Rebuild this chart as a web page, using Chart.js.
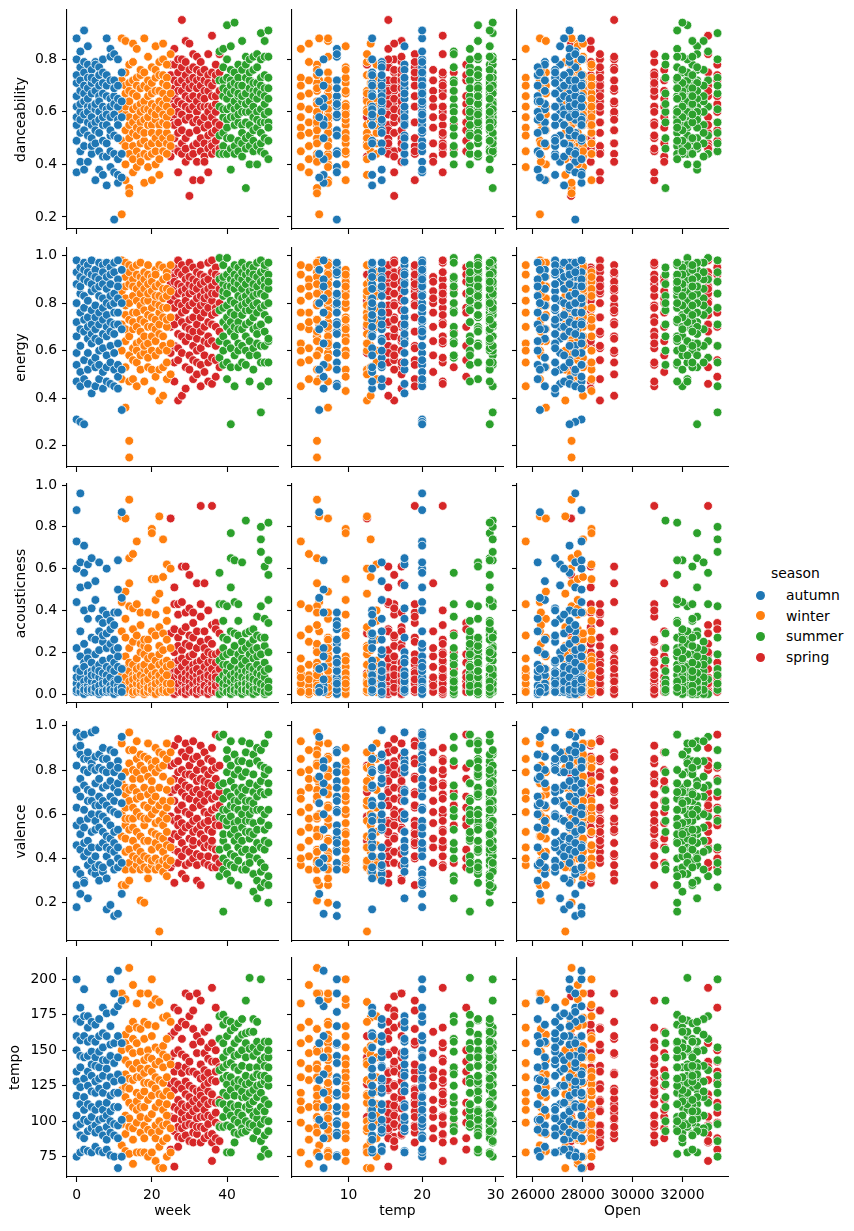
<!DOCTYPE html>
<html>
<head>
<meta charset="utf-8">
<script src="https://cdn.jsdelivr.net/npm/chart.js@4.4.1/dist/chart.umd.min.js"></script>
<style>
  body { margin: 0; background: #fff; }
  #page { position: relative; width: 854px; height: 1231px; overflow: hidden; font-family: 'DejaVu Sans', sans-serif; }
  #page canvas { position: absolute; }
  .leg { position: absolute; font-size: 13.9px; color: #000; line-height: 16px; white-space: nowrap; }
  .dot { position: absolute; width: 9px; height: 9px; border-radius: 50%; }
</style>
</head>
<body>
<div id="page"></div>
<script>
// weekly values (10 songs per week)
const weeks = [0,1,2,3,4,5,6,7,8,9,10,11,12,13,14,15,16,17,18,19,20,21,22,23,24,25,
  26,27,28,29,30,31,32,33,34,35,36,37,38,39,40,41,42,43,44,45,46,47,48,49,50,51];

const weekTemp = [20.0,20.0,20.0,17.6,17.6,14.5,14.5,13.2,13.2,8.4,8.4,6.6,6.0,
  7.2,5.7,4.6,3.5,5.7,7.2,7.2,9.6,9.6,12.5,13.0,13.8,12.5,
  15.4,16.2,15.4,17.2,16.2,19.0,17.2,19.0,21.5,22.8,22.8,26.0,24.3,
  26.5,27.6,29.2,29.6,29.2,27.6,29.6,26.5,29.2,24.3,29.6,27.6,29.2];

const weekOpen = [27950,27700,27470,27090,26890,26480,26190,26890,27250,27470,27700,27950,26280,
  26520,27550,27800,25710,26320,27550,28010,28350,27800,27300,28010,28350,27530,
  28320,28690,29260,28320,27530,28690,29260,30870,31270,30870,33030,33400,33030,
  31790,32200,32590,32000,32400,32850,31320,32200,32000,32590,33410,32400,31790];

// weeks that straddle two seasons: first half of the songs take the first name
const weekSeason = ['autumn','autumn','autumn','autumn','autumn','autumn','autumn','autumn','autumn','autumn',
  'autumn','autumn','autumn/winter',
  'winter','winter','winter','winter','winter','winter','winter','winter','winter','winter','winter','winter','winter/spring',
  'spring','spring','spring','spring','spring','spring','spring','spring','spring','spring','spring','spring','spring/summer',
  'summer','summer','summer','summer','summer','summer','summer','summer','summer','summer','summer','summer','summer'];

const danceability = [
  [.88,.37,.62,.71,.55,.80,.49,.66,.58,.74],[.83,.41,.60,.52,.77,.68,.45,.63,.72,.57],
  [.91,.38,.64,.70,.53,.79,.59,.47,.67,.75],[.85,.56,.62,.41,.73,.69,.51,.60,.78,.65],
  [.76,.44,.58,.67,.71,.62,.50,.55,.73,.47],[.79,.34,.61,.56,.68,.72,.48,.63,.53,.78],
  [.77,.60,.38,.70,.66,.52,.57,.45,.74,.64],[.80,.43,.62,.55,.71,.49,.67,.36,.58,.75],
  [.88,.48,.70,.32,.61,.55,.66,.43,.74,.59],[.84,.39,.65,.51,.72,.58,.62,.45,.81,.53],
  [.82,.19,.66,.37,.59,.72,.44,.51,.63,.69],[.80,.33,.57,.62,.42,.70,.50,.65,.36,.55],
  [.75,.35,.64,.58,.44,.88,.21,.72,.49,.60],[.87,.53,.67,.40,.75,.59,.34,.62,.47,.70],
  [.78,.31,.55,.29,.64,.71,.44,.58,.50,.68],[.86,.42,.72,.61,.52,.37,.67,.56,.79,.47],
  [.84,.58,.45,.66,.73,.62,.39,.54,.70,.51],[.74,.43,.63,.56,.69,.48,.76,.60,.41,.53],
  [.88,.33,.57,.70,.64,.49,.75,.44,.61,.52],[.81,.47,.66,.39,.72,.55,.61,.43,.69,.58],
  [.71,.34,.55,.63,.48,.77,.60,.44,.67,.52],[.85,.40,.62,.73,.57,.50,.68,.45,.76,.59],
  [.74,.48,.68,.36,.55,.64,.79,.42,.61,.52],[.86,.56,.71,.45,.63,.80,.50,.67,.59,.74],
  [.73,.52,.65,.44,.78,.58,.48,.62,.70,.55],[.82,.50,.60,.47,.67,.74,.43,.65,.58,.78],
  [.84,.55,.69,.46,.78,.62,.72,.50,.66,.59],[.80,.37,.64,.71,.56,.75,.45,.68,.60,.52],
  [.95,.44,.68,.59,.77,.53,.72,.48,.63,.80],[.87,.41,.74,.57,.66,.50,.79,.62,.70,.46],
  [.86,.28,.65,.72,.43,.58,.76,.61,.52,.69],[.82,.47,.70,.34,.62,.77,.56,.66,.44,.73],
  [.81,.41,.60,.76,.53,.69,.48,.64,.72,.57],[.79,.34,.66,.56,.73,.45,.62,.70,.50,.75],
  [.76,.43,.58,.68,.48,.72,.62,.54,.41,.65],[.82,.37,.62,.74,.55,.46,.68,.60,.51,.71],
  [.89,.48,.58,.66,.44,.75,.62,.52,.70,.47],[.78,.45,.63,.56,.72,.49,.66,.60,.53,.74],
  [.82,.46,.68,.55,.75,.83,.44,.72,.51,.62],[.84,.58,.72,.47,.66,.77,.52,.69,.61,.44],
  [.93,.50,.65,.73,.57,.44,.80,.61,.68,.54],[.85,.38,.72,.62,.50,.76,.58,.67,.46,.70],
  [.94,.61,.47,.68,.75,.55,.64,.44,.71,.58],[.78,.49,.66,.73,.56,.62,.45,.70,.59,.67],
  [.87,.55,.64,.48,.76,.60,.70,.52,.66,.43],[.81,.31,.60,.73,.50,.67,.56,.78,.46,.63],
  [.80,.47,.72,.55,.64,.69,.51,.75,.60,.40],[.81,.45,.68,.58,.76,.62,.53,.71,.49,.66],
  [.82,.40,.65,.77,.54,.71,.47,.60,.68,.57],[.90,.52,.73,.61,.45,.67,.80,.56,.70,.48],
  [.87,.50,.63,.74,.56,.69,.44,.81,.59,.66],[.91,.42,.69,.56,.65,.81,.49,.60,.73,.54]
];

const energy = [
  [.98,.31,.72,.88,.59,.47,.93,.66,.80,.54],[.95,.30,.84,.62,.76,.91,.51,.69,.87,.45],
  [.97,.29,.78,.56,.90,.68,.83,.48,.73,.94],[.96,.52,.81,.65,.89,.74,.46,.93,.59,.70],
  [.98,.42,.77,.85,.63,.92,.55,.71,.88,.67],[.94,.57,.79,.65,.86,.45,.74,.91,.53,.69],
  [.97,.60,.83,.71,.48,.90,.76,.64,.87,.54],[.96,.51,.78,.88,.67,.44,.82,.93,.61,.73],
  [.97,.53,.80,.66,.91,.47,.75,.86,.58,.70],[.95,.46,.79,.62,.88,.55,.72,.92,.68,.83],
  [.97,.59,.76,.84,.45,.93,.67,.80,.52,.71],[.98,.44,.82,.71,.90,.49,.76,.63,.87,.54],
  [.94,.35,.80,.52,.69,.98,.48,.85,.71,.60],[.97,.36,.82,.64,.91,.75,.53,.87,.69,.79],
  [.96,.15,.22,.73,.58,.88,.47,.80,.66,.93],[.95,.48,.83,.69,.90,.61,.76,.56,.87,.72],
  [.92,.45,.76,.63,.86,.55,.96,.70,.81,.60],[.97,.52,.79,.68,.91,.64,.84,.73,.58,.88],
  [.93,.47,.77,.86,.66,.59,.90,.72,.81,.62],[.96,.53,.81,.70,.88,.63,.75,.92,.57,.84],
  [.91,.43,.74,.85,.66,.78,.52,.89,.70,.60],[.94,.49,.80,.64,.87,.73,.58,.83,.69,.92],
  [.96,.39,.76,.88,.60,.71,.83,.52,.79,.67],[.95,.41,.82,.66,.90,.74,.53,.86,.78,.62],
  [.93,.48,.78,.60,.86,.70,.55,.91,.73,.83],[.96,.50,.74,.85,.63,.92,.59,.81,.70,.88],
  [.95,.47,.86,.71,.78,.91,.62,.83,.55,.89],[.98,.39,.80,.67,.88,.74,.56,.93,.84,.61],
  [.96,.41,.87,.72,.79,.92,.59,.85,.66,.76],[.94,.44,.83,.70,.90,.53,.77,.86,.64,.81],
  [.97,.52,.79,.88,.66,.84,.58,.91,.73,.69],[.95,.48,.85,.62,.80,.90,.56,.74,.87,.68],
  [.93,.50,.82,.71,.89,.60,.77,.86,.65,.55],[.96,.45,.79,.68,.88,.54,.83,.74,.92,.61],
  [.91,.51,.76,.85,.64,.80,.58,.89,.70,.82],[.97,.47,.83,.66,.90,.72,.55,.86,.78,.63],
  [.98,.46,.81,.71,.87,.57,.93,.75,.64,.84],[.95,.49,.78,.89,.62,.84,.70,.92,.56,.76],
  [.91,.53,.80,.68,.86,.99,.57,.77,.90,.64],[.96,.54,.83,.72,.88,.60,.91,.78,.66,.85],
  [.99,.48,.74,.87,.63,.92,.79,.55,.84,.70],[.94,.29,.53,.81,.68,.90,.76,.61,.87,.72],
  [.96,.45,.86,.70,.92,.58,.80,.66,.89,.75],[.95,.53,.78,.88,.63,.91,.72,.83,.60,.69],
  [.97,.55,.82,.69,.90,.75,.62,.86,.79,.93],[.92,.54,.77,.88,.66,.83,.71,.95,.60,.80],
  [.96,.47,.81,.72,.90,.64,.85,.58,.77,.93],[.95,.52,.79,.86,.69,.92,.61,.83,.74,.88],
  [.97,.58,.84,.70,.91,.76,.63,.87,.80,.67],[.98,.34,.45,.78,.89,.62,.84,.71,.93,.55],
  [.94,.55,.83,.68,.90,.75,.62,.87,.79,.96],[.97,.47,.80,.64,.92,.55,.86,.73,.65,.89]
];

const acousticness = [
  [.88,.01,.05,.73,.12,.44,.02,.22,.60,.08],[.96,.02,.18,.08,.51,.01,.30,.11,.63,.04],
  [.71,.00,.15,.40,.06,.24,.03,.58,.13,.02],[.62,.01,.20,.04,.36,.10,.02,.52,.07,.17],
  [.65,.03,.11,.01,.27,.41,.06,.15,.02,.09],[.54,.02,.09,.19,.01,.45,.05,.26,.12,.03],
  [.63,.00,.14,.30,.04,.21,.08,.01,.36,.11],[.40,.02,.25,.07,.34,.01,.16,.05,.10,.28],
  [.60,.01,.13,.05,.29,.22,.02,.09,.38,.06],[.35,.03,.17,.01,.24,.08,.31,.04,.12,.02],
  [.39,.00,.21,.06,.11,.33,.02,.15,.05,.26],[.64,.01,.22,.50,.04,.13,.39,.07,.02,.18],
  [.87,.03,.46,.12,.01,.85,.02,.30,.09,.44],[.84,.01,.18,.05,.49,.12,.02,.27,.08,.36],
  [.93,.03,.65,.11,.42,.02,.22,.06,.53,.15],[.67,.00,.14,.41,.04,.25,.09,.01,.31,.07],
  [.73,.02,.10,.28,.05,.17,.01,.43,.08,.12],[.39,.01,.24,.06,.13,.02,.20,.09,.33,.04],
  [.23,.00,.12,.04,.19,.08,.01,.26,.06,.14],[.26,.02,.11,.39,.05,.01,.17,.07,.22,.03],
  [.79,.01,.77,.13,.04,.30,.09,.55,.02,.18],[.55,.00,.45,.10,.28,.03,.16,.07,.38,.05],
  [.85,.02,.48,.14,.06,.23,.01,.32,.09,.19],[.74,.01,.29,.11,.04,.56,.15,.02,.21,.07],
  [.62,.03,.40,.16,.05,.26,.01,.13,.09,.35],[.60,.02,.14,.05,.22,.84,.01,.29,.10,.06],
  [.51,.00,.12,.31,.04,.20,.02,.08,.43,.15],[.43,.01,.27,.09,.38,.03,.16,.05,.23,.11],
  [.61,.02,.44,.13,.06,.30,.01,.21,.08,.17],[.61,.00,.39,.10,.24,.04,.15,.02,.32,.07],
  [.57,.01,.23,.06,.12,.41,.03,.18,.09,.28],[.39,.02,.14,.05,.27,.01,.19,.08,.34,.11],
  [.53,.00,.22,.09,.15,.03,.30,.06,.12,.02],[.90,.01,.43,.16,.05,.25,.02,.37,.10,.07],
  [.53,.02,.18,.06,.30,.01,.13,.08,.22,.04],[.40,.00,.20,.11,.03,.26,.07,.15,.02,.09],
  [.90,.01,.33,.16,.05,.24,.08,.02,.12,.19],[.34,.02,.19,.06,.31,.01,.10,.04,.15,.08],
  [.29,.01,.12,.05,.20,.58,.00,.16,.07,.43],[.43,.01,.22,.09,.35,.03,.14,.05,.27,.18],
  [.42,.02,.26,.08,.11,.04,.19,.01,.07,.14],[.77,.00,.65,.13,.51,.06,.20,.02,.30,.09],
  [.64,.01,.44,.10,.29,.04,.16,.07,.23,.02],[.43,.02,.28,.06,.12,.01,.19,.09,.35,.04],
  [.63,.00,.25,.11,.05,.17,.02,.21,.08,.14],[.83,.01,.29,.07,.16,.03,.22,.05,.11,.02],
  [.30,.02,.19,.06,.10,.01,.24,.08,.13,.04],[.26,.00,.17,.05,.31,.09,.02,.21,.12,.07],
  [.37,.01,.14,.22,.05,.28,.03,.10,.18,.06],[.80,.02,.74,.68,.42,.12,.27,.05,.19,.09],
  [.61,.00,.36,.15,.04,.23,.08,.01,.27,.11],[.82,.01,.64,.57,.45,.34,.20,.06,.12,.03]
];

const valence = [
  [.97,.18,.55,.82,.35,.71,.46,.90,.63,.28],[.95,.24,.68,.44,.87,.57,.33,.76,.51,.91],
  [.96,.30,.62,.85,.41,.73,.54,.29,.80,.47],[.85,.22,.66,.48,.79,.37,.58,.71,.43,.88],
  [.97,.34,.60,.83,.45,.70,.52,.66,.39,.81],[.98,.33,.64,.53,.86,.41,.74,.57,.36,.80],
  [.87,.37,.60,.76,.45,.68,.54,.81,.30,.64],[.90,.34,.59,.80,.47,.72,.36,.66,.52,.85],
  [.85,.17,.50,.73,.41,.64,.31,.57,.79,.45],[.89,.19,.49,.75,.38,.62,.55,.82,.44,.68],
  [.88,.14,.43,.66,.35,.52,.79,.47,.61,.72],[.84,.15,.53,.70,.36,.60,.81,.45,.74,.40],
  [.95,.24,.65,.38,.77,.92,.28,.60,.74,.50],[.79,.28,.55,.69,.43,.63,.35,.72,.49,.58],
  [.97,.30,.66,.44,.83,.53,.38,.71,.58,.89],[.89,.35,.72,.54,.80,.41,.63,.48,.76,.58],
  [.93,.37,.61,.79,.45,.70,.52,.85,.40,.67],[.87,.21,.50,.68,.35,.76,.43,.59,.82,.39],
  [.86,.20,.55,.41,.72,.36,.64,.48,.80,.58],[.92,.31,.63,.48,.77,.40,.58,.85,.35,.69],
  [.83,.37,.66,.52,.75,.44,.60,.39,.71,.81],[.90,.35,.68,.47,.79,.56,.40,.62,.84,.51],
  [.81,.07,.50,.64,.38,.72,.45,.57,.36,.88],[.87,.34,.60,.77,.43,.55,.82,.39,.66,.49],
  [.92,.32,.52,.71,.40,.63,.85,.46,.58,.37],[.88,.39,.66,.45,.75,.82,.36,.59,.70,.48],
  [.91,.29,.57,.76,.44,.66,.51,.83,.38,.71],[.94,.38,.62,.84,.50,.72,.43,.58,.79,.55],
  [.88,.33,.70,.47,.80,.56,.64,.41,.75,.52],[.92,.31,.54,.78,.44,.68,.61,.86,.37,.73],
  [.89,.38,.67,.49,.82,.55,.72,.43,.60,.78],[.93,.40,.63,.77,.46,.57,.85,.52,.70,.48],
  [.86,.30,.58,.71,.42,.80,.53,.66,.37,.75],[.91,.28,.64,.47,.76,.55,.83,.41,.69,.51],
  [.88,.45,.72,.56,.80,.38,.66,.49,.75,.61],[.85,.41,.69,.53,.78,.46,.60,.37,.74,.57],
  [.90,.45,.67,.80,.52,.73,.36,.62,.84,.48],[.96,.36,.58,.76,.44,.68,.55,.81,.40,.63],
  [.82,.38,.70,.55,.64,.95,.32,.59,.73,.44],[.96,.16,.48,.67,.40,.58,.74,.35,.62,.51],
  [.89,.33,.62,.79,.45,.55,.70,.38,.85,.57],[.93,.30,.59,.75,.42,.64,.51,.82,.37,.68],
  [.87,.36,.66,.48,.78,.56,.63,.41,.72,.53],[.84,.28,.57,.70,.45,.62,.80,.39,.66,.50],
  [.93,.35,.60,.77,.43,.84,.54,.68,.48,.72],[.88,.37,.63,.52,.79,.44,.71,.57,.35,.66],
  [.92,.41,.66,.57,.83,.49,.74,.60,.38,.52],[.87,.25,.56,.70,.44,.62,.78,.33,.65,.51],
  [.90,.22,.53,.40,.73,.62,.30,.84,.47,.68],[.89,.27,.57,.34,.75,.45,.82,.62,.38,.70],
  [.92,.29,.60,.44,.78,.53,.69,.36,.81,.48],[.96,.20,.55,.32,.74,.47,.70,.62,.28,.80]
];

const tempo = [
  [200,75,150,118,96,172,135,104,160,128],[180,78,138,98,157,112,170,124,90,146],
  [193,80,130,101,160,117,145,88,174,108],[174,79,125,146,93,166,112,135,100,156],
  [170,78,140,103,158,121,95,132,149,110],[168,82,145,97,128,156,108,139,92,120],
  [172,79,149,112,94,130,160,101,138,123],[180,78,143,102,162,120,90,132,108,152],
  [176,80,160,96,125,143,87,113,137,104],[200,76,146,107,131,92,167,118,154,100],
  [190,75,155,110,90,177,128,98,141,120],[206,67,181,145,88,120,160,97,133,110],
  [185,75,155,129,101,190,83,150,122,98],[186,79,161,124,104,143,91,133,117,155],
  [208,77,165,123,96,140,113,151,102,130],[196,70,170,129,95,148,110,137,87,158],
  [183,78,155,120,99,141,108,166,131,114],[190,78,165,103,131,149,92,118,137,110],
  [170,78,143,121,97,158,110,134,88,127],[190,75,150,115,102,137,168,127,94,145],
  [200,78,182,135,92,118,160,105,144,126],[186,72,167,123,97,140,110,152,88,131],
  [184,67,150,113,82,129,100,142,119,93],[173,67,153,127,97,138,108,118,147,86],
  [174,75,158,131,98,145,112,121,88,104],[170,78,140,118,95,160,80,126,103,145],
  [180,68,148,110,93,135,122,163,102,128],[178,82,150,115,96,126,139,108,166,89],
  [170,88,147,101,123,112,158,95,134,106],[190,90,145,102,119,168,128,97,110,138],
  [188,86,142,117,104,125,174,98,135,111],[178,85,154,123,97,114,135,107,165,92],
  [190,91,160,116,102,133,121,148,96,109],[185,85,130,112,96,156,122,103,140,118],
  [163,88,136,103,125,115,148,95,108,131],[166,90,152,121,104,134,112,98,144,127],
  [194,72,142,114,91,129,155,103,119,85],[180,80,150,128,99,142,113,88,135,106],
  [158,86,138,115,97,174,96,136,158,113],[175,96,155,130,112,168,120,145,103,138],
  [171,78,160,126,108,140,97,118,149,132],[170,78,150,112,96,131,164,104,122,141],
  [166,85,138,118,101,155,127,92,146,110],[169,91,147,124,99,111,136,158,106,129],
  [172,95,150,128,104,117,161,92,139,121],[185,93,155,126,110,145,100,132,117,162],
  [201,96,163,120,108,138,151,98,127,112],[172,88,152,114,97,131,122,146,104,163],
  [170,93,149,117,102,138,125,107,156,133],[200,75,143,98,132,110,152,86,126,120],
  [156,80,139,101,128,115,145,90,132,107],[156,77,145,100,125,93,138,112,150,130]
];

const weekTicks = [0, 20, 40];
const tempTicks = [10, 20, 30];
const openTicks = [26000, 28000, 30000, 32000];
const danceTicks = [0.2, 0.4, 0.6, 0.8];
const energyTicks = [0.2, 0.4, 0.6, 0.8, 1.0];
const acousticTicks = [0.0, 0.2, 0.4, 0.6, 0.8, 1.0];
const valenceTicks = [0.2, 0.4, 0.6, 0.8, 1.0];
const tempoTicks = [75, 100, 125, 150, 175, 200];

const legendOrder = ['autumn', 'winter', 'summer', 'spring'];
const seasonColors = { autumn: '#1f77b4', winter: '#ff7f0e', summer: '#2ca02c', spring: '#d62728' };
// drawn first -> last
const drawOrder = ['spring', 'summer', 'winter', 'autumn'];

// one record per song
const songs = [];
weeks.forEach(function(w, wi) {
  const names = weekSeason[wi].split('/');
  danceability[wi].forEach(function(d, i) {
    const season = names.length > 1 && i >= danceability[wi].length / 2 ? names[1] : names[0];
    songs.push({
      week: w, temp: weekTemp[wi], Open: weekOpen[wi],
      danceability: d, energy: energy[wi][i], acousticness: acousticness[wi][i],
      valence: valence[wi][i], tempo: tempo[wi][i], season: season
    });
  });
});

const xVars = [
  { key: 'week', min: -2.55, max: 53.55, ticks: weekTicks, fmt: v => String(v) },
  { key: 'temp', min: 2.3, max: 31.0, ticks: tempTicks, fmt: v => String(v) },
  { key: 'Open', min: 25360, max: 33830, ticks: openTicks, fmt: v => String(v) }
];
const yVars = [
  { key: 'danceability', min: 0.154, max: 0.988, ticks: danceTicks, fmt: v => v.toFixed(1), titlePad: 13 },
  { key: 'energy', min: 0.110, max: 1.032, ticks: energyTicks, fmt: v => v.toFixed(1), titlePad: 13.5 },
  { key: 'acousticness', min: -0.043, max: 1.005, ticks: acousticTicks, fmt: v => v.toFixed(1), titlePad: 13 },
  { key: 'valence', min: 0.027, max: 1.017, ticks: valenceTicks, fmt: v => v.toFixed(1), titlePad: 13 },
  { key: 'tempo', min: 60.7, max: 215.0, ticks: tempoTicks, fmt: v => String(v), titlePad: 7.5 }
];

const colLeft = [67, 292, 517];
const rowTop = [10, 248, 484, 722, 958];
const plotW = 211, plotH = 219, padTop = 8, padRight = 8;

Chart.defaults.font.family = "'DejaVu Sans', sans-serif";
Chart.defaults.font.size = 13.9;
Chart.defaults.color = '#000';

const page = document.getElementById('page');

function axisCommon(v, showLabels) {
  return {
    type: 'linear',
    min: v.min,
    max: v.max,
    afterBuildTicks: s => { s.ticks = v.ticks.map(t => ({ value: t })); },
    ticks: { display: showLabels, autoSkip: false, maxRotation: 0, minRotation: 0, padding: 5,
      color: '#000', callback: val => v.fmt(val) },
    grid: { display: true, drawOnChartArea: false, drawTicks: true, tickLength: 5,
      tickColor: '#000', tickWidth: 1.1 },
    border: { display: true, color: '#000', width: 1.1 }
  };
}

yVars.forEach(function(yv, r) {
  xVars.forEach(function(xv, c) {
    const isLeft = c === 0, isBottom = r === yVars.length - 1;
    const yW = isLeft ? colLeft[0] : 12;
    const xH = isBottom ? 52 : 12;
    const canvas = document.createElement('canvas');
    const cw = yW + plotW + padRight, ch = padTop + plotH + xH;
    canvas.width = cw; canvas.height = ch;
    canvas.style.width = cw + 'px'; canvas.style.height = ch + 'px';
    canvas.style.left = (colLeft[c] - yW) + 'px';
    canvas.style.top = (rowTop[r] - padTop) + 'px';
    page.appendChild(canvas);

    const datasets = drawOrder.slice().reverse().map(function(season) {
      return {
        label: season,
        data: songs.filter(s => s.season === season).map(s => ({ x: s[xv.key], y: s[yv.key] })),
        backgroundColor: seasonColors[season],
        borderColor: '#ffffff',
        borderWidth: 0.8,
        pointRadius: 4.4,
        pointHoverRadius: 4.4
      };
    });

    const xAxis = axisCommon(xv, isBottom);
    xAxis.afterFit = s => { s.height = xH; s.paddingLeft = 0; s.paddingRight = 0; };
    xAxis.title = { display: isBottom, text: xv.key, color: '#000', padding: { top: 0, bottom: 9 } };

    const yAxis = axisCommon(yv, isLeft);
    yAxis.afterFit = s => { s.width = yW; s.paddingTop = 0; s.paddingBottom = 0; };
    yAxis.title = { display: isLeft, text: yv.key, color: '#000', padding: { top: yv.titlePad, bottom: 0 } };

    new Chart(canvas, {
      type: 'scatter',
      data: { datasets: datasets },
      options: {
        responsive: false,
        animation: false,
        events: [],
        layout: { padding: { top: padTop, right: padRight, left: 0, bottom: 0 } },
        plugins: { legend: { display: false }, tooltip: { enabled: false } },
        scales: { x: xAxis, y: yAxis }
      }
    });
  });
});

// legend, right of the grid
const legTitle = document.createElement('div');
legTitle.className = 'leg';
legTitle.textContent = 'season';
legTitle.style.left = '771px';
legTitle.style.top = '565px';
page.appendChild(legTitle);
legendOrder.forEach(function(season, i) {
  const y = 595 + i * 20.7;
  const dot = document.createElement('div');
  dot.className = 'dot';
  dot.style.background = seasonColors[season];
  dot.style.left = (760 - 4.5) + 'px';
  dot.style.top = (y - 4.5) + 'px';
  page.appendChild(dot);
  const label = document.createElement('div');
  label.className = 'leg';
  label.textContent = season;
  label.style.left = '786px';
  label.style.top = (y - 8) + 'px';
  page.appendChild(label);
});
</script>
</body>
</html>
